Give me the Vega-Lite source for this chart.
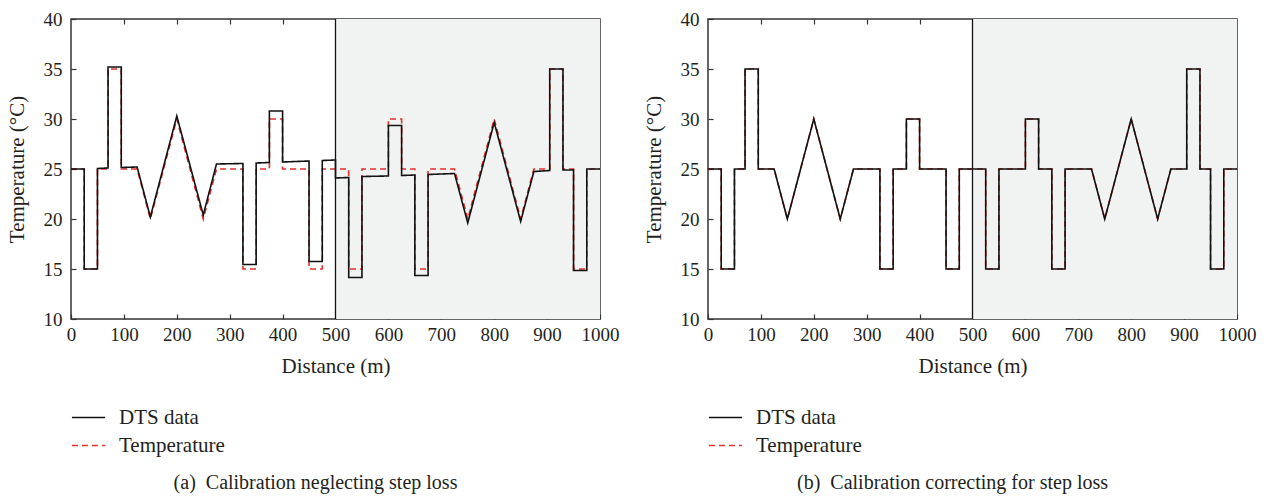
{
  "$schema": "https://vega.github.io/schema/vega-lite/v6.json",
  "background": "white",
  "padding": {"left": 5, "top": 9, "right": 10, "bottom": 0},
  "datasets": {
    "truth": [
      {"i":0,"x":0,"t":25},{"i":1,"x":25,"t":25},{"i":2,"x":25,"t":15},{"i":3,"x":50,"t":15},{"i":4,"x":50,"t":25},
      {"i":5,"x":70,"t":25},{"i":6,"x":70,"t":35},{"i":7,"x":95,"t":35},{"i":8,"x":95,"t":25},{"i":9,"x":125,"t":25},
      {"i":10,"x":150,"t":20},{"i":11,"x":200,"t":30},{"i":12,"x":250,"t":20},{"i":13,"x":275,"t":25},{"i":14,"x":325,"t":25},
      {"i":15,"x":325,"t":15},{"i":16,"x":350,"t":15},{"i":17,"x":350,"t":25},{"i":18,"x":375,"t":25},{"i":19,"x":375,"t":30},
      {"i":20,"x":400,"t":30},{"i":21,"x":400,"t":25},{"i":22,"x":450,"t":25},{"i":23,"x":450,"t":15},{"i":24,"x":475,"t":15},
      {"i":25,"x":475,"t":25},{"i":26,"x":525,"t":25},{"i":27,"x":525,"t":15},{"i":28,"x":550,"t":15},{"i":29,"x":550,"t":25},
      {"i":30,"x":600,"t":25},{"i":31,"x":600,"t":30},{"i":32,"x":625,"t":30},{"i":33,"x":625,"t":25},{"i":34,"x":650,"t":25},
      {"i":35,"x":650,"t":15},{"i":36,"x":675,"t":15},{"i":37,"x":675,"t":25},{"i":38,"x":725,"t":25},{"i":39,"x":750,"t":20},
      {"i":40,"x":800,"t":30},{"i":41,"x":850,"t":20},{"i":42,"x":875,"t":25},{"i":43,"x":905,"t":25},{"i":44,"x":905,"t":35},
      {"i":45,"x":930,"t":35},{"i":46,"x":930,"t":25},{"i":47,"x":950,"t":25},{"i":48,"x":950,"t":15},{"i":49,"x":975,"t":15},
      {"i":50,"x":975,"t":25},{"i":51,"x":1000,"t":25}
    ],
    "dtsA": [
      {"i":0,"x":0,"t":25},{"i":1,"x":25,"t":25},{"i":2,"x":25,"t":15},{"i":3,"x":50,"t":15},{"i":4,"x":50,"t":25.05},
      {"i":5,"x":70,"t":25.1},{"i":6,"x":70,"t":35.2},{"i":7,"x":95,"t":35.2},{"i":8,"x":95,"t":25.15},{"i":9,"x":125,"t":25.2},
      {"i":10,"x":150,"t":20.2},{"i":11,"x":200,"t":30.3},{"i":12,"x":250,"t":20.4},{"i":13,"x":275,"t":25.5},{"i":14,"x":325,"t":25.55},
      {"i":15,"x":325,"t":15.45},{"i":16,"x":350,"t":15.45},{"i":17,"x":350,"t":25.6},{"i":18,"x":375,"t":25.65},{"i":19,"x":375,"t":30.8},
      {"i":20,"x":400,"t":30.8},{"i":21,"x":400,"t":25.7},{"i":22,"x":450,"t":25.8},{"i":23,"x":450,"t":15.75},{"i":24,"x":475,"t":15.75},
      {"i":25,"x":475,"t":25.85},{"i":26,"x":500,"t":25.9},{"i":27,"x":500,"t":24.1},{"i":28,"x":525,"t":24.15},{"i":29,"x":525,"t":14.15},
      {"i":30,"x":550,"t":14.15},{"i":31,"x":550,"t":24.25},{"i":32,"x":600,"t":24.3},{"i":33,"x":600,"t":29.35},{"i":34,"x":625,"t":29.35},
      {"i":35,"x":625,"t":24.35},{"i":36,"x":650,"t":24.4},{"i":37,"x":650,"t":14.35},{"i":38,"x":675,"t":14.35},{"i":39,"x":675,"t":24.45},
      {"i":40,"x":725,"t":24.55},{"i":41,"x":750,"t":19.6},{"i":42,"x":800,"t":29.65},{"i":43,"x":850,"t":19.75},{"i":44,"x":875,"t":24.75},
      {"i":45,"x":905,"t":24.85},{"i":46,"x":905,"t":35.0},{"i":47,"x":930,"t":35.0},{"i":48,"x":930,"t":24.9},{"i":49,"x":950,"t":24.9},
      {"i":50,"x":950,"t":14.85},{"i":51,"x":975,"t":14.85},{"i":52,"x":975,"t":25.0},{"i":53,"x":1000,"t":25.0}
    ],
    "dtsB": [
      {"i":0,"x":0,"t":25},{"i":1,"x":25,"t":25},{"i":2,"x":25,"t":15},{"i":3,"x":50,"t":15},{"i":4,"x":50,"t":25},
      {"i":5,"x":70,"t":25},{"i":6,"x":70,"t":35},{"i":7,"x":95,"t":35},{"i":8,"x":95,"t":25},{"i":9,"x":125,"t":25},
      {"i":10,"x":150,"t":20},{"i":11,"x":200,"t":30},{"i":12,"x":250,"t":20},{"i":13,"x":275,"t":25},{"i":14,"x":325,"t":25},
      {"i":15,"x":325,"t":15},{"i":16,"x":350,"t":15},{"i":17,"x":350,"t":25},{"i":18,"x":375,"t":25},{"i":19,"x":375,"t":30},
      {"i":20,"x":400,"t":30},{"i":21,"x":400,"t":25},{"i":22,"x":450,"t":25},{"i":23,"x":450,"t":15},{"i":24,"x":475,"t":15},
      {"i":25,"x":475,"t":25},{"i":26,"x":525,"t":25},{"i":27,"x":525,"t":15},{"i":28,"x":550,"t":15},{"i":29,"x":550,"t":25},
      {"i":30,"x":600,"t":25},{"i":31,"x":600,"t":30},{"i":32,"x":625,"t":30},{"i":33,"x":625,"t":25},{"i":34,"x":650,"t":25},
      {"i":35,"x":650,"t":15},{"i":36,"x":675,"t":15},{"i":37,"x":675,"t":25},{"i":38,"x":725,"t":25},{"i":39,"x":750,"t":20},
      {"i":40,"x":800,"t":30},{"i":41,"x":850,"t":20},{"i":42,"x":875,"t":25},{"i":43,"x":905,"t":25},{"i":44,"x":905,"t":35},
      {"i":45,"x":930,"t":35},{"i":46,"x":930,"t":25},{"i":47,"x":950,"t":25},{"i":48,"x":950,"t":15},{"i":49,"x":975,"t":15},
      {"i":50,"x":975,"t":25},{"i":51,"x":1000,"t":25}
    ],
    "shade": [{"x0": 500, "x1": 1000}]
  },
  "config": {
    "font": "Liberation Serif",
    "view": {"stroke": "#333333", "strokeWidth": 1.5},
    "concat": {"spacing": 22},
    "axis": {
      "domain": false, "grid": false, "labelFlush": false,
      "tickColor": "#333333", "tickSize": -5, "tickWidth": 1.2,
      "labelFont": "Liberation Serif", "labelFontSize": 19, "labelColor": "#231f20",
      "titleFont": "Liberation Serif", "titleFontSize": 21, "titleFontWeight": "normal", "titleColor": "#231f20"
    },
    "legend": {
      "orient": "none", "legendX": 0, "legendY": 381, "title": null,
      "symbolType": "stroke", "symbolSize": 1100, "symbolStrokeWidth": 1.5,
      "labelFont": "Liberation Serif", "labelFontSize": 21, "labelColor": "#231f20",
      "labelOffset": 13, "rowPadding": 0
    },
    "title": {"font": "Liberation Serif", "fontSize": 20, "fontWeight": "normal", "color": "#231f20"}
  },
  "hconcat": [
    {
      "width": 529, "height": 300,
      "title": {"text": "(a)\u00a0 Calibration neglecting step loss", "orient": "bottom", "anchor": "middle", "offset": 17, "dx": -20},
      "resolve": {"axis": {"x": "independent"}},
      "layer": [
        {
          "data": {"name": "shade"},
          "mark": {"type": "rect", "fill": "#f1f3f2"},
          "encoding": {
            "x": {"field": "x0", "type": "quantitative", "scale": {"domain": [0, 1000], "nice": false},
                  "axis": {"orient": "bottom", "values": [0,100,200,300,400,500,600,700,800,900,1000], "format": "d", "title": "Distance (m)", "labelPadding": 11, "titlePadding": 11}},
            "x2": {"field": "x1"}
          }
        },
        {
          "data": {"name": "shade"},
          "mark": {"type": "rule", "color": "#111111", "strokeWidth": 1.3},
          "encoding": {
            "x": {"field": "x0", "type": "quantitative", "scale": {"domain": [0, 1000], "nice": false},
                  "axis": {"orient": "top", "values": [100,200,300,400,500,600,700,800,900], "labels": false, "title": null}}
          }
        },
        {
          "data": {"name": "truth"},
          "mark": {"type": "line", "strokeWidth": 1.6},
          "encoding": {
            "x": {"field": "x", "type": "quantitative", "axis": null},
            "y": {"field": "t", "type": "quantitative", "scale": {"domain": [10, 40], "nice": false},
                  "axis": {"values": [10,15,20,25,30,35,40], "title": "Temperature (°C)", "labelPadding": 14, "titlePadding": 16}},
            "order": {"field": "i", "type": "quantitative"},
            "color": {"datum": "Temperature", "scale": {"domain": ["DTS data", "Temperature"], "range": ["#111111", "#e5302c"]}},
            "strokeDash": {"datum": "Temperature", "scale": {"domain": ["DTS data", "Temperature"], "range": [[1, 0], [6, 4]]}}
          }
        },
        {
          "data": {"name": "dtsA"},
          "mark": {"type": "line", "strokeWidth": 1.6},
          "encoding": {
            "x": {"field": "x", "type": "quantitative", "axis": null},
            "y": {"field": "t", "type": "quantitative"},
            "order": {"field": "i", "type": "quantitative"},
            "color": {"datum": "DTS data"},
            "strokeDash": {"datum": "DTS data"}
          }
        }
      ]
    },
    {
      "width": 529, "height": 300,
      "title": {"text": "(b)\u00a0 Calibration correcting for step loss", "orient": "bottom", "anchor": "middle", "offset": 17, "dx": -20},
      "resolve": {"axis": {"x": "independent"}},
      "layer": [
        {
          "data": {"name": "shade"},
          "mark": {"type": "rect", "fill": "#f1f3f2"},
          "encoding": {
            "x": {"field": "x0", "type": "quantitative", "scale": {"domain": [0, 1000], "nice": false},
                  "axis": {"orient": "bottom", "values": [0,100,200,300,400,500,600,700,800,900,1000], "format": "d", "title": "Distance (m)", "labelPadding": 11, "titlePadding": 11}},
            "x2": {"field": "x1"}
          }
        },
        {
          "data": {"name": "shade"},
          "mark": {"type": "rule", "color": "#111111", "strokeWidth": 1.3},
          "encoding": {
            "x": {"field": "x0", "type": "quantitative", "scale": {"domain": [0, 1000], "nice": false},
                  "axis": {"orient": "top", "values": [100,200,300,400,500,600,700,800,900], "labels": false, "title": null}}
          }
        },
        {
          "data": {"name": "truth"},
          "mark": {"type": "line", "strokeWidth": 1.6},
          "encoding": {
            "x": {"field": "x", "type": "quantitative", "axis": null},
            "y": {"field": "t", "type": "quantitative", "scale": {"domain": [10, 40], "nice": false},
                  "axis": {"values": [10,15,20,25,30,35,40], "title": "Temperature (°C)", "labelPadding": 14, "titlePadding": 16}},
            "order": {"field": "i", "type": "quantitative"},
            "color": {"datum": "Temperature", "scale": {"domain": ["DTS data", "Temperature"], "range": ["#111111", "#e5302c"]}},
            "strokeDash": {"datum": "Temperature", "scale": {"domain": ["DTS data", "Temperature"], "range": [[1, 0], [6, 4]]}}
          }
        },
        {
          "data": {"name": "dtsB"},
          "mark": {"type": "line", "strokeWidth": 1.6},
          "encoding": {
            "x": {"field": "x", "type": "quantitative", "axis": null},
            "y": {"field": "t", "type": "quantitative"},
            "order": {"field": "i", "type": "quantitative"},
            "color": {"datum": "DTS data"},
            "strokeDash": {"datum": "DTS data"}
          }
        }
      ]
    }
  ],
  "resolve": {"scale": {"color": "independent", "strokeDash": "independent"}, "legend": {"color": "independent", "strokeDash": "independent"}}
}
